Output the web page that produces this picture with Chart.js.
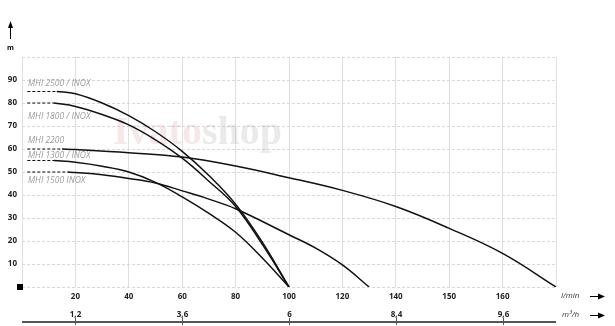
<!DOCTYPE html>
<html>
<head>
<meta charset="utf-8">
<script src="https://cdn.jsdelivr.net/npm/chart.js@4.4.0/dist/chart.umd.min.js"></script>
<style>
  html, body { margin: 0; padding: 0; background: #fff; }
  #wrap { width: 615px; height: 326px; }
</style>
</head>
<body>
<div id="wrap"><canvas id="myChart" width="615" height="326"></canvas></div>
<script>
// flow axis: grid lines are evenly spaced but the values are not
const flowTicks = [0, 20, 40, 60, 80, 100, 120, 140, 150, 160, 170];
const flowLabels = ['', '20', '40', '60', '80', '100', '120', '140', '150', '160', ''];
const m3hLabels = ['', '1,2', '', '3,6', '', '6', '', '8,4', '', '9,6', ''];
const headTicks = [10, 20, 30, 40, 50, 60, 70, 80, 90];

const names = ['MHI 2500 / INOX', 'MHI 1800 / INOX', 'MHI 2200', 'MHI 1300 / INOX', 'MHI 1500 INOX'];
const shutoff = [85, 80, 60, 55, 50];

const q2500 = [13, 20, 30, 40, 50, 60, 70, 80, 90, 100];
const h2500 = [85, 84, 80, 74.5, 67.5, 59, 48.5, 36, 19.5, 0];

const q1800 = [12, 20, 30, 40, 50, 60, 70, 80, 90, 100];
const h1800 = [80, 78.5, 75, 70.5, 64, 56, 46, 35, 18.5, 0];

const q2200 = [15, 20, 40, 60, 80, 100, 120, 140, 150, 160, 170];
const h2200 = [60, 59.8, 58.4, 56.5, 52.6, 47.5, 42, 35, 25.5, 14.6, 0];

const q1300 = [12, 20, 30, 40, 50, 60, 70, 80, 90, 100];
const h1300 = [55, 54.2, 52.5, 50, 45.5, 39.2, 32, 23.8, 12.6, 0];

const q1500 = [17, 20, 30, 40, 50, 60, 70, 80, 100, 110, 120, 130];
const h1500 = [50, 49.8, 48.8, 47.2, 45.2, 41.8, 38.2, 34, 22.7, 16.9, 9.6, 0];

const flows = [q2500, q1800, q2200, q1300, q1500];
const heads = [h2500, h1800, h2200, h1300, h1500];

// pixel offset of each curve name from its shut-off line
const labelShift = [-7.5, 13.5, -8, -5, 8.5];

function pos(q) {
  for (let i = 0; i < flowTicks.length - 1; i++) {
    if (q <= flowTicks[i + 1]) {
      return i + (q - flowTicks[i]) / (flowTicks[i + 1] - flowTicks[i]);
    }
  }
  return flowTicks.length - 1;
}

const datasets = [];
flows.forEach((qs, s) => {
  datasets.push({
    data: qs.map((q, i) => ({ x: pos(q), y: heads[s][i] })),
    borderColor: '#111',
    borderWidth: 1.5,
    pointRadius: 0,
    showLine: true,
    tension: 0.4
  });
  datasets.push({
    data: [{ x: pos(2), y: shutoff[s] }, { x: pos(qs[0]), y: shutoff[s] }],
    borderColor: '#111',
    borderWidth: 1,
    borderDash: [3, 2],
    pointRadius: 0,
    showLine: true
  });
});

const font = "'Open Sans', sans-serif";

const extras = {
  id: 'extras',
  beforeDatasetsDraw(chart) {
    const c = chart.ctx;
    c.save();
    c.font = "bold 40px 'Liberation Serif', serif";
    c.textBaseline = 'alphabetic';
    c.fillStyle = 'rgba(215,150,150,0.22)';
    c.fillText('Ivato', 113, 144);
    const w = c.measureText('Ivato').width;
    c.fillStyle = 'rgba(160,160,160,0.22)';
    c.fillText('shop', 113 + w, 144);
    c.restore();
  },
  afterDraw(chart) {
    const c = chart.ctx;
    const x = chart.scales.x, y = chart.scales.y;
    const a = chart.chartArea;
    c.save();

    // curve names
    c.font = 'italic 8.5px ' + font;
    c.fillStyle = '#9a9a9a';
    c.textBaseline = 'middle';
    names.forEach((n, s) => {
      c.fillText(n, 28, y.getPixelForValue(shutoff[s]) + labelShift[s]);
    });

    // origin square
    c.fillStyle = '#000';
    c.fillRect(a.left - 5, a.bottom - 3, 6, 6);

    // head arrow and unit
    c.strokeStyle = '#000';
    c.lineWidth = 1;
    c.beginPath(); c.moveTo(10.5, 39); c.lineTo(10.5, 26); c.stroke();
    c.beginPath(); c.moveTo(10.5, 21); c.lineTo(8, 28); c.lineTo(13, 28); c.closePath(); c.fill();
    c.font = 'bold 7px ' + font;
    c.textAlign = 'center';
    c.fillText('m', 10.5, 48);

    // second flow axis (m3/h)
    const yLine = 322;
    c.strokeStyle = '#555';
    c.lineWidth = 2;
    c.beginPath(); c.moveTo(a.left, yLine); c.lineTo(a.right, yLine); c.stroke();
    c.lineWidth = 1;
    c.font = 'bold 8px ' + font;
    c.fillStyle = '#222';
    m3hLabels.forEach((t, i) => {
      if (!t) return;
      const px = Math.round(x.getPixelForValue(i)) + 0.5;
      c.beginPath(); c.moveTo(px, yLine - 4); c.lineTo(px, yLine + 3); c.stroke();
      c.fillText(t, px, 315);
    });

    // unit names with arrows
    c.textAlign = 'left';
    c.font = 'italic 8px ' + font;
    c.fillStyle = '#333';
    c.fillText('l/min', 561, 296);
    c.fillText('m\u00b3/h', 562, 315);
    c.fillStyle = '#000';
    c.strokeStyle = '#000';
    [296, 315].forEach(yy => {
      c.beginPath(); c.moveTo(590, yy + 0.5); c.lineTo(600, yy + 0.5); c.stroke();
      c.beginPath(); c.moveTo(605, yy + 0.5); c.lineTo(598, yy - 2.5); c.lineTo(598, yy + 3.5); c.closePath(); c.fill();
    });
    c.restore();
  }
};

new Chart(document.getElementById('myChart'), {
  type: 'scatter',
  data: { datasets },
  options: {
    responsive: false,
    animation: false,
    events: [],
    layout: { padding: { top: 57, right: 59, left: 0, bottom: 0 } },
    plugins: { legend: { display: false }, tooltip: { enabled: false } },
    scales: {
      x: {
        type: 'linear',
        min: 0,
        max: 10,
        afterFit(scale) { scale.height = 39; },
        ticks: {
          stepSize: 1,
          autoSkip: false,
          maxRotation: 0,
          padding: 5,
          color: '#222',
          font: { family: font, size: 8, weight: 'bold' },
          callback: v => flowLabels[v]
        },
        grid: { color: '#e0e0e0', drawTicks: false },
        border: { display: false }
      },
      y: {
        min: 0,
        max: 100,
        afterFit(scale) { scale.width = 22; },
        ticks: {
          stepSize: 10,
          padding: 5,
          color: '#222',
          font: { family: font, size: 8, weight: 'bold' },
          callback: v => headTicks.includes(v) ? v : ''
        },
        grid: { color: '#d8d8d8', drawTicks: false },
        border: { display: false, dash: [3, 2] }
      }
    }
  },
  plugins: [extras]
});
</script>
</body>
</html>
